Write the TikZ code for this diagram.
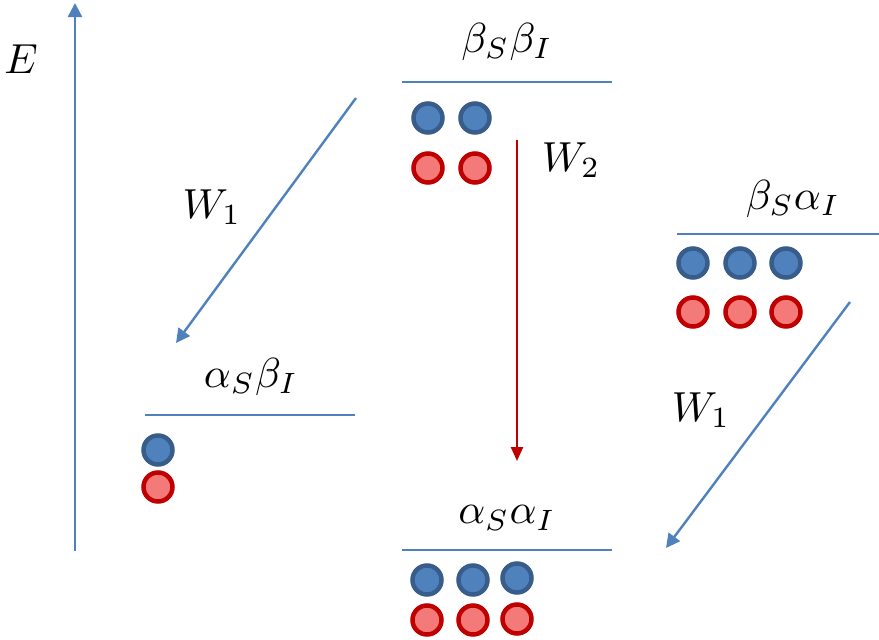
\documentclass[tikz,border=0pt]{standalone}
\usepackage{graphicx}
\usetikzlibrary{arrows.meta}
\definecolor{lvl}{HTML}{4F81BD}
\definecolor{bfill}{HTML}{4F81BD}
\definecolor{bdraw}{HTML}{385D8A}
\definecolor{rfill}{HTML}{F47A7A}
\definecolor{rdraw}{HTML}{C00000}
\newcommand{\mylabtext}[1]{\scalebox{4.2}{$#1$}}
\begin{document}
\begin{tikzpicture}[x=1pt,y=-1pt,
  level/.style={draw=lvl,line width=2.4pt},
  bdot/.style={circle,fill=bfill,draw=bdraw,line width=4.5pt,minimum size=29pt,inner sep=0pt},
  rdot/.style={circle,fill=rfill,draw=rdraw,line width=4.5pt,minimum size=29pt,inner sep=0pt},
  lab/.style={inner sep=0pt},
  barrow/.style={draw=lvl,line width=2.4pt,-{Triangle[length=14pt,width=14pt]}},
  rarrow/.style={draw=rdraw,line width=2.4pt,-{Triangle[length=14pt,width=12pt]}}]
\useasboundingbox (0,0) rectangle (879,640);
% axis
\coordinate (ebot) at (75,551);
\coordinate (etop) at (75,3);
\draw[barrow] (ebot) -- (etop);
\node[lab] (E) at (21,59) {\mylabtext{E}};
% levels
\coordinate (l1a) at (402,82); \coordinate (l1b) at (612,82);
\draw[level] (l1a) -- (l1b);
\node[lab] (t1) at (507,42) {\mylabtext{\beta_S\beta_I}};
\coordinate (l2a) at (677,234); \coordinate (l2b) at (879,234);
\draw[level] (l2a) -- (l2b);
\node[lab] (t2) at (793,199) {\mylabtext{\beta_S\alpha_I}};
\coordinate (l3a) at (145,415); \coordinate (l3b) at (355,415);
\draw[level] (l3a) -- (l3b);
\node[lab] (t3) at (251,377) {\mylabtext{\alpha_S\beta_I}};
\coordinate (l4a) at (402,550); \coordinate (l4b) at (612,550);
\draw[level] (l4a) -- (l4b);
\node[lab] (t4) at (507,518) {\mylabtext{\alpha_S\alpha_I}};
% dots
\node[bdot] (b11) at (428,118) {}; \node[bdot] (b12) at (475,118) {};
\node[rdot] (r11) at (428,168) {}; \node[rdot] (r12) at (475,168) {};
\node[bdot] (b21) at (693,263) {}; \node[bdot] (b22) at (740,263) {}; \node[bdot] (b23) at (786,263) {};
\node[rdot] (r21) at (693,312) {}; \node[rdot] (r22) at (740,312) {}; \node[rdot] (r23) at (786,312) {};
\node[bdot] (b31) at (158,450) {};
\node[rdot] (r31) at (158,487) {};
\node[bdot] (b41) at (427,580) {}; \node[bdot] (b42) at (473,580) {}; \node[bdot] (b43) at (517,578) {};
\node[rdot] (r41) at (427,620) {}; \node[rdot] (r42) at (473,620) {}; \node[rdot] (r43) at (517,619) {};
% transitions
\coordinate (w1s) at (356,98); \coordinate (w1e) at (176,343);
\draw[barrow] (w1s) -- (w1e);
\node[lab] (w1l) at (212,207) {\mylabtext{W_1}};
\coordinate (w2s) at (517,140); \coordinate (w2e) at (517,461);
\draw[rarrow] (w2s) -- (w2e);
\node[lab] (w2l) at (571,160) {\mylabtext{W_2}};
\coordinate (w3s) at (850,302); \coordinate (w3e) at (666,548);
\draw[barrow] (w3s) -- (w3e);
\node[lab] (w3l) at (701,410) {\mylabtext{W_1}};
\end{tikzpicture}
\end{document}
